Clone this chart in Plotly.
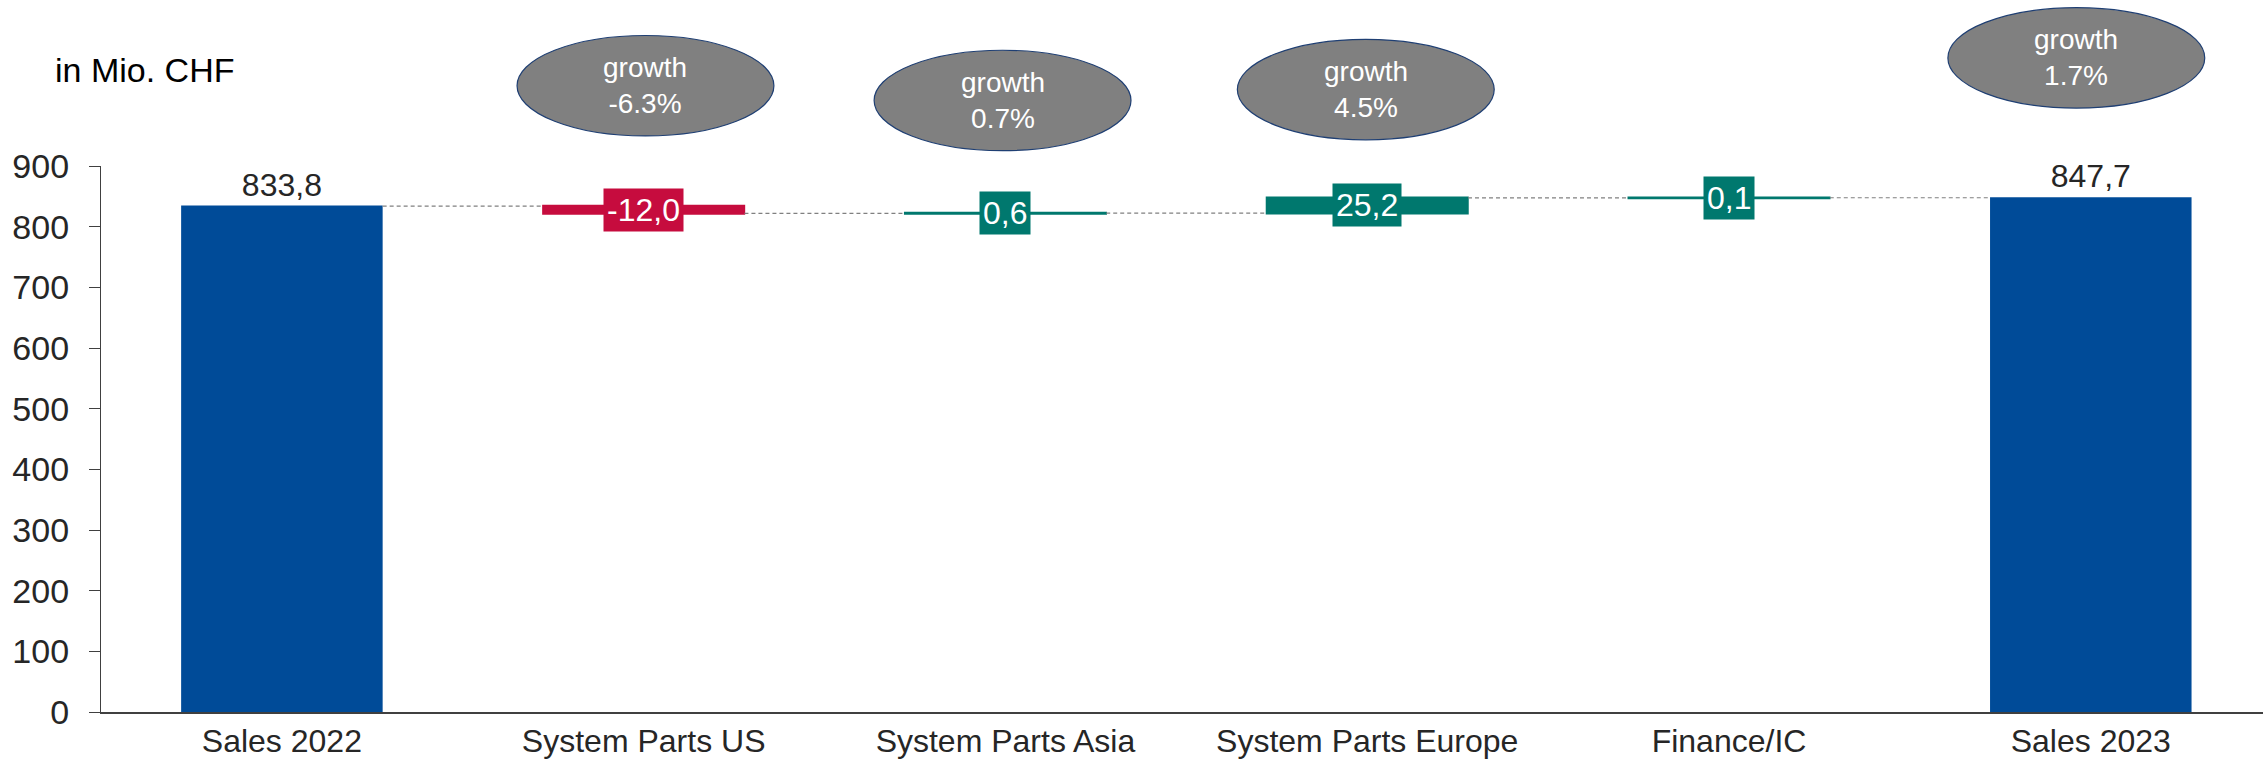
import plotly.graph_objects as go

# ---- data ----
categories = ["Sales 2022", "System Parts US", "System Parts Asia",
              "System Parts Europe", "Finance/IC", "Sales 2023"]
values = [833.8, -12.0, 0.6, 25.2, 0.1, 847.7]
measures = ["absolute", "relative", "relative", "relative", "relative", "total"]
growth_categories = ["System Parts US", "System Parts Asia", "System Parts Europe", "Sales 2023"]
growth_pct = [-6.3, 0.7, 4.5, 1.7]
y_ticks = [0, 100, 200, 300, 400, 500, 600, 700, 800, 900]
unit_label = "in Mio. CHF"

# ---- layout helpers (positions / styles, not data) ----
bubble_y_center = [1.147, 1.12, 1.14, 1.198]      # paper coords
bubble_x_shift = [0.005, -0.008, -0.004, -0.04]    # category units
bubble_half_w = 0.355
bubble_half_h = 0.092

FONT = "Liberation Sans, Arial, sans-serif"
BLUE = "#004B98"
RED = "#C60C3E"
TEAL = "#00786E"
TXT = "#262626"
AX = "#404040"

def fmt(v):
    return f"{v:.1f}".replace(".", ",")

bar_text = [fmt(v) if m != "relative" else "" for v, m in zip(values, measures)]

fig = go.Figure(go.Waterfall(
    x=categories, y=values, measure=measures,
    text=bar_text, textposition="outside",
    textfont=dict(family=FONT, size=32, color=TXT),
    increasing=dict(marker=dict(color=TEAL, line=dict(color=TEAL, width=1.5))),
    decreasing=dict(marker=dict(color=RED, line=dict(color=RED, width=1.5))),
    totals=dict(marker=dict(color=BLUE, line=dict(color=BLUE, width=0))),
    connector=dict(mode="between", line=dict(color="#808080", width=1.2, dash="4px,3px")),
    cliponaxis=False,
    hoverinfo="skip",
))

annotations = []
# delta labels in coloured boxes
level = 0.0
for cat, v, m in zip(categories, values, measures):
    if m == "absolute":
        level = v
        continue
    if m == "total":
        continue
    start, end = level, level + v
    level = end
    annotations.append(dict(
        x=cat, y=(start + end) / 2, xref="x", yref="y",
        text=fmt(v), showarrow=False,
        font=dict(family=FONT, size=32, color="white"),
        bgcolor=RED if v < 0 else TEAL, borderpad=3,
        xanchor="center", yanchor="middle",
    ))

shapes = []
for cat, g, yc, dx in zip(growth_categories, growth_pct, bubble_y_center, bubble_x_shift):
    i = categories.index(cat)
    shapes.append(dict(
        type="circle", xref="x", yref="paper",
        x0=i + dx - bubble_half_w, x1=i + dx + bubble_half_w,
        y0=yc - bubble_half_h, y1=yc + bubble_half_h,
        fillcolor="#808080", line=dict(color="#1F3F73", width=1.2), layer="above",
    ))
    annotations.append(dict(
        x=i + dx, y=yc, xref="x", yref="paper",
        text=f"growth<br>{g:.1f}%", showarrow=False,
        font=dict(family=FONT, size=28, color="white"),
        xanchor="center", yanchor="middle",
    ))

annotations.append(dict(
    x=-0.022, y=1.176, xref="paper", yref="paper", text=unit_label,
    showarrow=False, xanchor="left", yanchor="middle",
    font=dict(family=FONT, size=34, color="black"),
))

fig.update_layout(
    width=2263, height=767,
    margin=dict(l=101, r=0, t=166, b=55),
    paper_bgcolor="white", plot_bgcolor="white",
    showlegend=False,
    waterfallgap=0.443,
    font=dict(family=FONT, size=32, color=TXT),
    shapes=shapes, annotations=annotations,
    xaxis=dict(showline=True, linecolor=AX, linewidth=2, ticks="",
               showgrid=False, zeroline=False, range=[-0.5, 5.476],
               tickfont=dict(family=FONT, size=32, color=TXT)),
    yaxis=dict(range=[0, 900], tickvals=y_ticks, showline=True, linecolor=AX,
               linewidth=1.3, ticks="outside", ticklen=11, tickwidth=1.3,
               tickcolor=AX, showgrid=False, zeroline=False,
               ticklabelstandoff=13,
               tickfont=dict(family=FONT, size=34, color=TXT)),
)

fig.write_html("out.html")
